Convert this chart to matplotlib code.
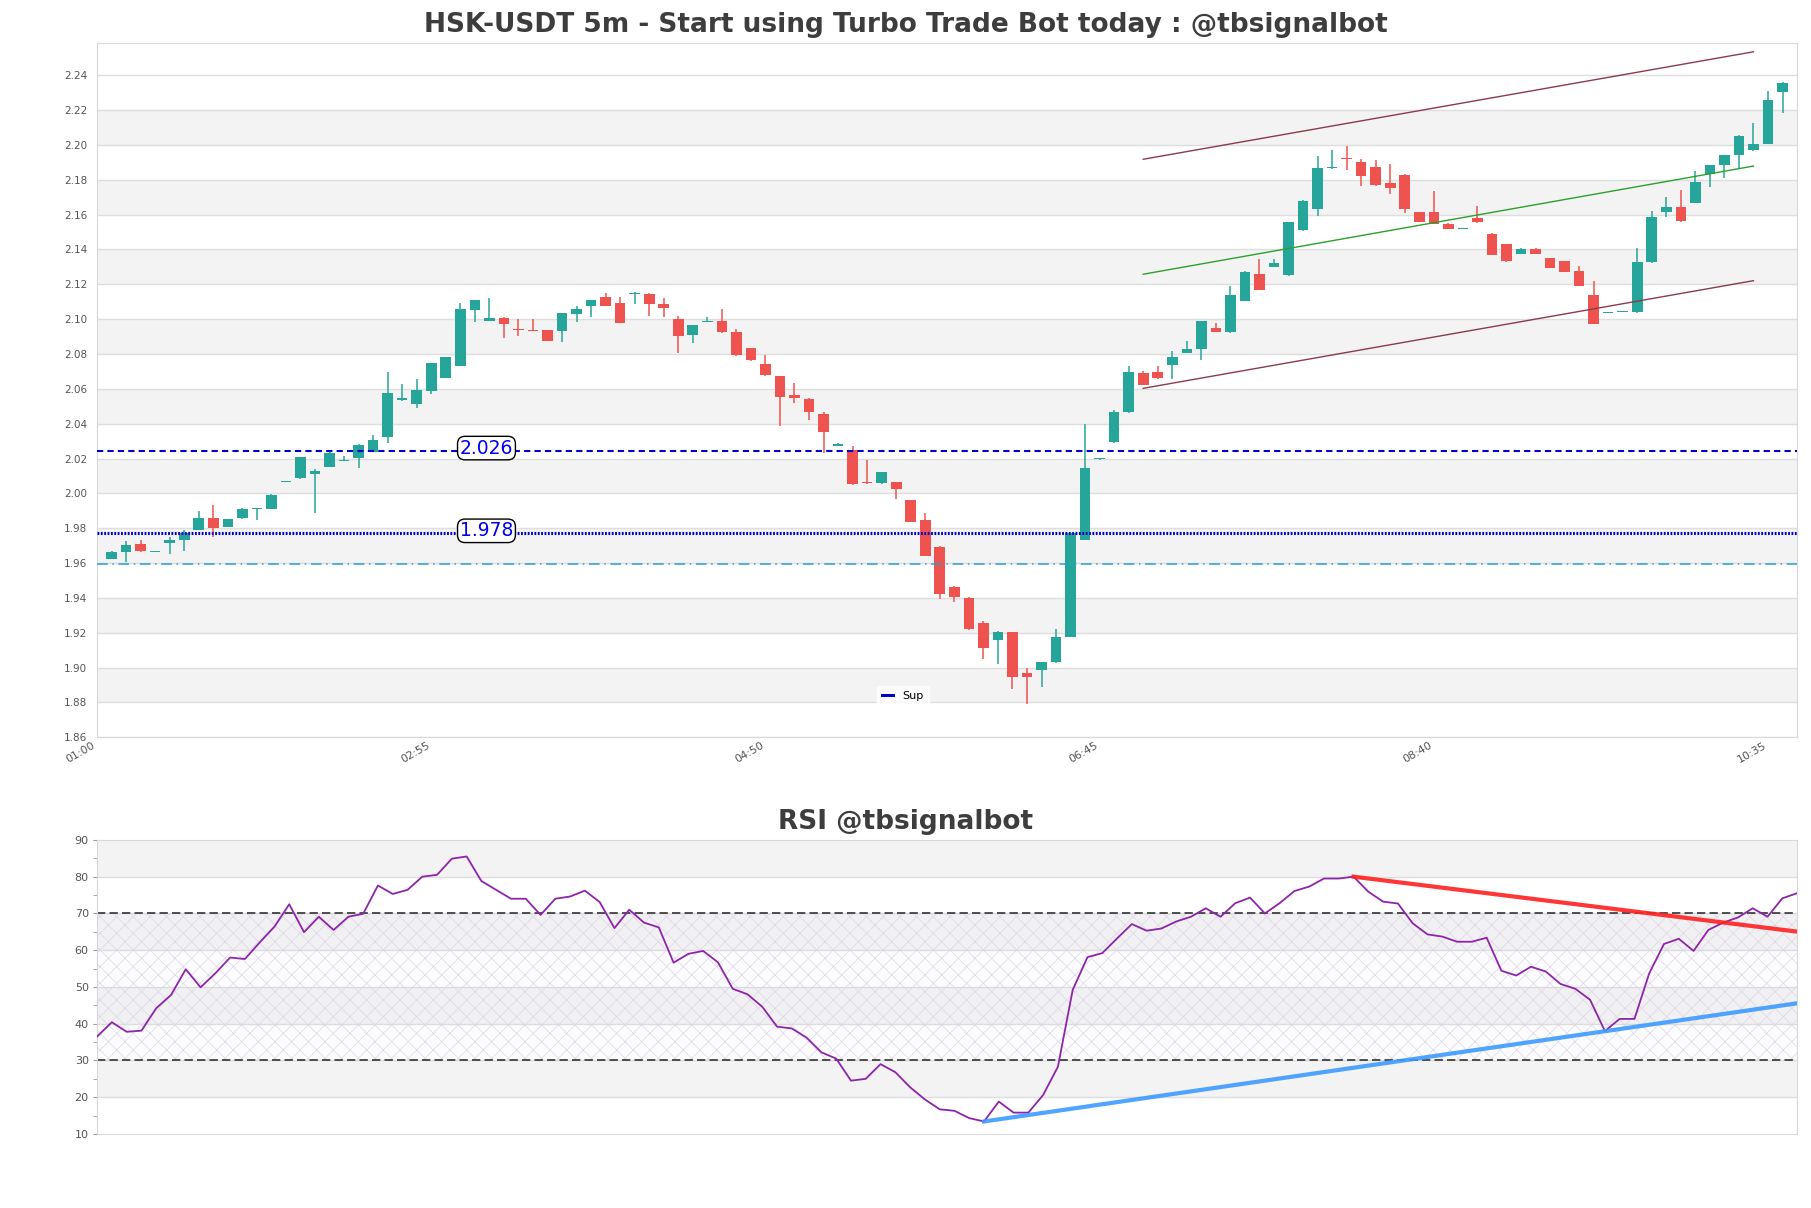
import matplotlib.pyplot as plt
import numpy as np
from matplotlib.lines import Line2D
from matplotlib.ticker import MultipleLocator

# candles, 5m, first candle 01:05
opens = [1.9625, 1.9665, 1.9712, 1.9666, 1.9716, 1.9731, 1.9792, 1.9861, 1.9808, 1.9856,
         1.9912, 1.9910, 2.0067, 2.0089, 2.0113, 2.0152, 2.0187, 2.0203, 2.0238, 2.0324,
         2.0535, 2.0513, 2.0589, 2.0662, 2.0732, 2.1053, 2.0989, 2.1009, 2.0946, 2.0937,
         2.0938, 2.0934, 2.1032, 2.1075, 2.1129, 2.1094, 2.1143, 2.1146, 2.1085, 2.1000,
         2.0912, 2.0983, 2.0992, 2.0928, 2.0835, 2.0744, 2.0671, 2.0564, 2.0541, 2.0453,
         2.0273, 2.0247, 2.0063, 2.0058, 2.0064, 1.9960, 1.9846, 1.9691, 1.9460, 1.9402,
         1.9257, 1.9158, 1.9202, 1.8967, 1.8987, 1.9031, 1.9177, 1.9735, 2.0195, 2.0295,
         2.0465, 2.0690, 2.0694, 2.0737, 2.0806, 2.0827, 2.0947, 2.0924, 2.1104, 2.1257,
         2.1299, 2.1251, 2.1511, 2.1635, 2.1866, 2.1920, 2.1902, 2.1873, 2.1784, 2.1829,
         2.1614, 2.1614, 2.1549, 2.1519, 2.1579, 2.1490, 2.1432, 2.1375, 2.1404, 2.1352,
         2.1333, 2.1274, 2.1137, 2.1036, 2.1042, 2.1040, 2.1326, 2.1614, 2.1644, 2.1667,
         2.1833, 2.1883, 2.1941, 2.1969, 2.2007, 2.2306]
highs = [1.9667, 1.9724, 1.9735, 1.9667, 1.9750, 1.9792, 1.9897, 1.9935, 1.9855, 1.9915,
         1.9915, 1.9995, 2.0069, 2.0211, 2.0142, 2.0236, 2.0215, 2.0282, 2.0333, 2.0694,
         2.0627, 2.0656, 2.0749, 2.0782, 2.1095, 2.1110, 2.1120, 2.1012, 2.1003, 2.1003,
         2.0940, 2.1036, 2.1076, 2.1112, 2.1148, 2.1126, 2.1155, 2.1148, 2.1120, 2.1018,
         2.0968, 2.1010, 2.1060, 2.0943, 2.0837, 2.0795, 2.0675, 2.0633, 2.0545, 2.0465,
         2.0287, 2.0270, 2.0194, 2.0125, 2.0066, 1.9962, 1.9890, 1.9700, 1.9470, 1.9404,
         1.9267, 1.9212, 1.9204, 1.8996, 1.9033, 1.9219, 1.9775, 2.0396, 2.0202, 2.0480,
         2.0732, 2.0700, 2.0732, 2.0818, 2.0875, 2.0992, 2.0977, 2.1188, 2.1274, 2.1343,
         2.1343, 2.1560, 2.1683, 2.1938, 2.1972, 2.1992, 2.1920, 2.1915, 2.1892, 2.1831,
         2.1616, 2.1735, 2.1551, 2.1521, 2.1652, 2.1495, 2.1434, 2.1406, 2.1406, 2.1354,
         2.1335, 2.1308, 2.1219, 2.1039, 2.1045, 2.1409, 2.1620, 2.1701, 2.1739, 2.1848,
         2.1885, 2.1944, 2.2055, 2.2129, 2.2312, 2.2360]
lows = [1.9622, 1.9605, 1.9665, 1.9665, 1.9650, 1.9668, 1.9788, 1.9750, 1.9805, 1.9855,
        1.9846, 1.9908, 2.0066, 2.0080, 1.9888, 2.0150, 2.0185, 2.0146, 2.0236, 2.0289,
        2.0533, 2.0490, 2.0570, 2.0660, 2.0730, 2.0984, 2.0987, 2.0892, 2.0904, 2.0930,
        2.0873, 2.0870, 2.0984, 2.1015, 2.1073, 2.0978, 2.1089, 2.1018, 2.1015, 2.0804,
        2.0865, 2.0981, 2.0920, 2.0790, 2.0761, 2.0676, 2.0389, 2.0520, 2.0423, 2.0234,
        2.0271, 2.0050, 2.0056, 2.0056, 1.9968, 1.9834, 1.9639, 1.9391, 1.9378, 1.9217,
        1.9047, 1.9018, 1.8875, 1.8791, 1.8890, 1.9029, 1.9175, 1.9733, 2.0193, 2.0290,
        2.0462, 2.0622, 2.0659, 2.0656, 2.0804, 2.0766, 2.0926, 2.0922, 2.1102, 2.1165,
        2.1297, 2.1249, 2.1509, 2.1591, 2.1864, 2.1858, 2.1763, 2.1766, 2.1719, 2.1610,
        2.1557, 2.1547, 2.1516, 2.1518, 2.1554, 2.1366, 2.1331, 2.1373, 2.1373, 2.1293,
        2.1268, 2.1188, 2.0973, 2.1035, 2.1041, 2.1038, 2.1324, 2.1589, 2.1560, 2.1665,
        2.1759, 2.1810, 2.1868, 2.1967, 2.2005, 2.2186]
closes = [1.9664, 1.9706, 1.9667, 1.9667, 1.9731, 1.9773, 1.9861, 1.9802, 1.9852, 1.9913,
          1.9914, 1.9993, 2.0068, 2.0209, 2.0127, 2.0234, 2.0189, 2.0280, 2.0304, 2.0576,
          2.0545, 2.0593, 2.0747, 2.0780, 2.1057, 2.1108, 2.1009, 2.0974, 2.0936, 2.0932,
          2.0875, 2.1034, 2.1057, 2.1110, 2.1076, 2.0980, 2.1145, 2.1089, 2.1066, 2.0905,
          2.0966, 2.0992, 2.0925, 2.0792, 2.0763, 2.0678, 2.0555, 2.0545, 2.0467, 2.0352,
          2.0285, 2.0056, 2.0058, 2.0123, 2.0026, 1.9836, 1.9641, 1.9420, 1.9406, 1.9219,
          1.9110, 1.9206, 1.8944, 1.8944, 1.9031, 1.9177, 1.9773, 2.0148, 2.0200, 2.0465,
          2.0694, 2.0624, 2.0661, 2.0781, 2.0831, 2.0990, 2.0928, 2.1139, 2.1272, 2.1167,
          2.1324, 2.1558, 2.1681, 2.1868, 2.1873, 2.1918, 2.1820, 2.1768, 2.1751, 2.1635,
          2.1559, 2.1549, 2.1518, 2.1520, 2.1556, 2.1368, 2.1333, 2.1404, 2.1375, 2.1295,
          2.1270, 2.1190, 2.0975, 2.1038, 2.1044, 2.1329, 2.1589, 2.1644, 2.1562, 2.1787,
          2.1883, 2.1942, 2.2053, 2.2007, 2.2259, 2.2358]

rsi = [36.5, 40.4, 37.8, 38.1, 44.2, 47.8, 54.8, 49.9, 53.7, 58.0, 57.6, 62.1, 66.4, 72.5,
       64.9, 69.1, 65.5, 69.1, 69.9, 77.6, 75.3, 76.4, 80.0, 80.5, 84.9, 85.5, 78.8, 76.4,
       74.0, 74.0, 69.6, 74.0, 74.6, 76.2, 73.1, 66.0,
       71.0, 67.5, 66.2, 56.6, 59.0, 59.8, 56.7, 49.5, 48.0, 44.6, 39.2, 38.7, 36.2, 32.2,
       30.5, 24.5, 25.0, 29.0, 26.8, 22.7, 19.4, 16.7, 16.3, 14.3, 13.4, 18.8, 15.8, 15.8,
       20.6, 28.3, 49.2, 58.1, 59.2, 63.2, 67.1, 65.3, 65.9, 67.8, 69.1, 71.4, 69.1,
       72.8, 74.3, 70.0, 72.8, 76.1, 77.3, 79.5, 79.5, 80.0, 75.9, 73.2, 72.7, 67.3, 64.3,
       63.7, 62.3, 62.3, 63.4, 54.4, 53.1, 55.5, 54.2, 50.8, 49.5, 46.5, 38.0, 41.3, 41.3,
       53.7, 61.7, 63.1, 59.8, 65.5, 67.5, 68.9, 71.4, 69.1, 74.1, 75.5]

tick_pos = [0, 23, 46, 69, 92, 115]
tick_labels = ["01:00", "02:55", "04:50", "06:45", "08:40", "10:35"]

res_level = 2.0245
sup_level = 1.9770
low_level = 1.9592
level_text = ["2.026", "1.978"]

chan_x = [72, 114]
chan_upper = [2.1918, 2.2535]
chan_mid = [2.1258, 2.1879]
chan_lower = [2.0603, 2.1221]

rsi_res_x = [85, 115]
rsi_res_y = [80.0, 65.05]
rsi_sup_x = [60, 115]
rsi_sup_y = [13.4, 45.55]

GREEN = '#26a69a'
RED = '#ef5350'
BAND = '#f3f3f3'
GRID = '#dedede'
TXT = '#555555'

plt.rcParams['hatch.linewidth'] = 0.5

fig = plt.figure(figsize=(18.11, 12.08), dpi=100)
ax = fig.add_axes([0.0536, 0.3897, 0.9387, 0.5745])
ax2 = fig.add_axes([0.0536, 0.0613, 0.9387, 0.2434])

# ---- price panel
n = len(opens)
x = np.arange(1, n + 1)
o = np.array(opens)
c = np.array(closes)
up = c >= o
cols = np.where(up, GREEN, RED)
body_lo = np.minimum(o, c)
body_h = np.maximum(np.abs(c - o), 0.0006)

for y0 in np.arange(1.88, 2.23, 0.04):
    ax.axhspan(y0, y0 + 0.02, color=BAND, zorder=0, lw=0)
for y0 in np.arange(1.86, 2.25, 0.02):
    ax.axhline(y0, color=GRID, lw=1, zorder=0.5)

ax.vlines(x, lows, highs, colors=cols, lw=1.1, zorder=2)
ax.bar(x, body_h, bottom=body_lo, width=0.73, color=cols, zorder=3)

ax.axhline(res_level, color='#0000cc', lw=1.5, ls=(0, (3, 2)), zorder=4)
ax.axhline(sup_level, color='#0000cc', lw=2.2, ls=(0, (0.6, 0.5)), zorder=4)
ax.axhline(low_level, color='#2a9fd0', lw=1.1, ls=(0, (7, 3, 1, 3)), zorder=4)

for lv, t in zip([res_level, sup_level], level_text):
    ax.text(26.8, lv + 0.0015, t, fontsize=13.5, color='#0000ee', ha='center', va='center', zorder=6,
            bbox=dict(boxstyle='round,pad=0.12,rounding_size=0.4', fc='white', ec='black', lw=1))

ax.plot(chan_x, chan_upper, color='#8c3a4c', lw=1, zorder=4)
ax.plot(chan_x, chan_mid, color='#2ca02c', lw=1, zorder=4)
ax.plot(chan_x, chan_lower, color='#8c3a4c', lw=1, zorder=4)

ax.set_xlim(0, n + 1)
ax.set_ylim(1.86, 2.2584)
ax.set_yticks(np.arange(1.86, 2.245, 0.02))
ax.set_yticklabels(['%.2f' % v for v in np.arange(1.86, 2.245, 0.02)])
ax.set_xticks(tick_pos)
ax.set_xticklabels(tick_labels, rotation=30, ha='right')
ax.tick_params(axis='y', length=0, pad=7, labelsize=7.5, labelcolor=TXT)
ax.tick_params(axis='x', length=0, pad=2, labelsize=8, labelcolor=TXT)
for s in ax.spines.values():
    s.set_color('#d8d8d8')

sup_handle = Line2D([], [], color='#0000cc', lw=2.2, label='Sup')
leg = ax.legend(handles=[sup_handle], loc='lower center', bbox_to_anchor=(0.474, 0.036),
                fontsize=8, handlelength=1.0, frameon=True, borderpad=0.5)
leg.get_frame().set_edgecolor('white')

# ---- RSI panel
xr = np.arange(len(rsi))
for y0 in [20, 40, 60, 80]:
    ax2.axhspan(y0, y0 + 10, color=BAND, zorder=0, lw=0)
for y0 in range(20, 90, 10):
    ax2.axhline(y0, color=GRID, lw=1, zorder=0.5)
ax2.fill_between([0, len(rsi) - 1], 30, 70, facecolor='#9575cd', alpha=0.02, lw=0, zorder=0.6)
ax2.fill_between([0, len(rsi) - 1], 30, 70, facecolor='none', edgecolor='#ddd6e6', hatch='xx', lw=0, zorder=0.7)
ax2.axhline(70, color='#333333', lw=1.2, ls=(0, (5, 2.5)), zorder=2)
ax2.axhline(30, color='#333333', lw=1.2, ls=(0, (5, 2.5)), zorder=2)

ax2.plot(xr, rsi, color='#8e24aa', lw=1.3, zorder=3)
ax2.plot(rsi_res_x, rsi_res_y, color='#ff2020', lw=3, alpha=0.9, zorder=4)
ax2.plot(rsi_sup_x, rsi_sup_y, color='#3d9bff', lw=3, alpha=0.9, zorder=4)

ax2.set_xlim(0, len(rsi) - 1)
ax2.set_ylim(10, 90)
ax2.yaxis.set_major_locator(MultipleLocator(10))
ax2.yaxis.set_minor_locator(MultipleLocator(5))
ax2.set_xticks([])
ax2.tick_params(axis='y', which='both', length=3, color='#999999', pad=3, labelsize=8, labelcolor=TXT)
for s in ax2.spines.values():
    s.set_color('#d8d8d8')

fig.text(0.5, 1 - 25 / 1208, 'HSK-USDT 5m - Start using Turbo Trade Bot today : @tbsignalbot',
         ha='center', va='center', fontsize=19, fontweight='bold', color='#3d3d3d')
fig.text(0.5, 1 - 822 / 1208, 'RSI @tbsignalbot',
         ha='center', va='center', fontsize=19, fontweight='bold', color='#3d3d3d')

fig.savefig('out.png', dpi=100)
